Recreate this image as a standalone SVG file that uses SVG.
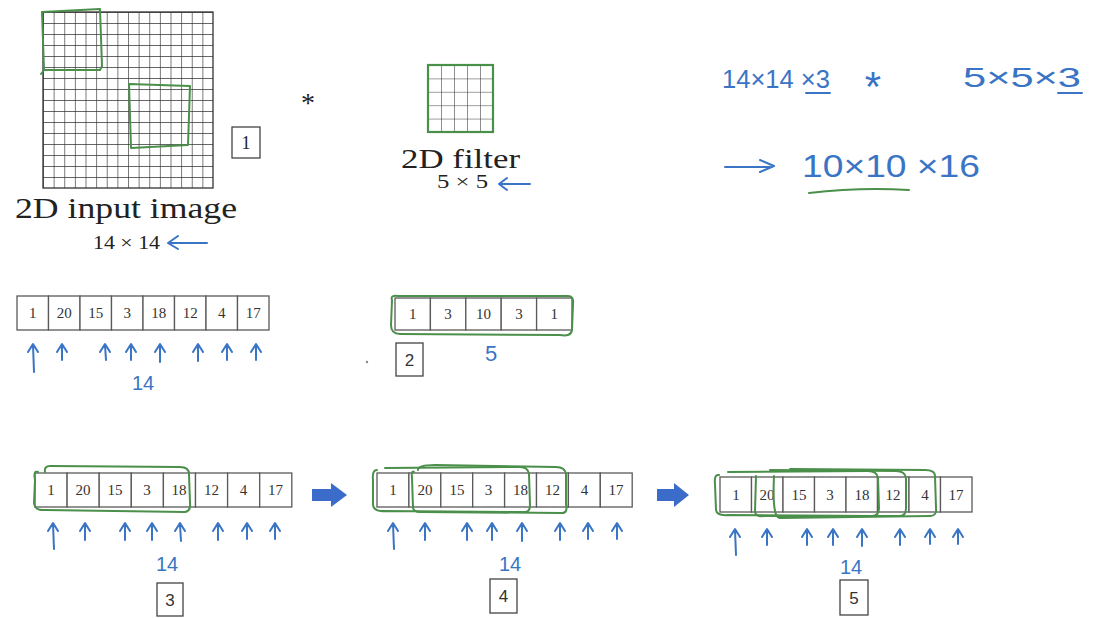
<svg xmlns="http://www.w3.org/2000/svg" width="1095" height="618" viewBox="0 0 1095 618">
<style>
.cell{fill:#fff;stroke:#5a5a5a;stroke-width:1.3}
.num{font-family:"Liberation Serif",serif;font-size:15px;text-anchor:middle;fill:#333}
.serif{font-family:"Liberation Serif",serif;fill:#222}
.lbl{font-family:"Liberation Sans",sans-serif;font-size:17px;text-anchor:middle;fill:#333}
.box{fill:#fff;stroke:#444;stroke-width:1.3}
.hand{font-family:"Liberation Sans",sans-serif;fill:#3a74c4}
.grn{fill:none;stroke:#4a8f4a;stroke-width:2;stroke-linejoin:round;stroke-linecap:round}
.bl{fill:none;stroke:#3a74c4;stroke-width:2;stroke-linecap:round;stroke-linejoin:round}
.blk{fill:#3b6cc9}
</style>
<defs>
<pattern id="g16" patternUnits="userSpaceOnUse" x="43" y="12" width="10.625" height="11">
<path d="M0,0 V11 M0,0 H10.625" stroke="#333" stroke-width="1.3" fill="none"/>
</pattern>
<pattern id="g5" patternUnits="userSpaceOnUse" x="428" y="65" width="13" height="13.4">
<path d="M0,0 V13.4 M0,0 H13" stroke="#333" stroke-width="1.1" fill="none"/>
</pattern>
</defs>
<rect width="1095" height="618" fill="#fff"/>

<g id="input-image">
<rect x="43" y="12" width="170" height="176" fill="url(#g16)" stroke="#333" stroke-width="1.3"/>
<path class="grn" d="M44,70 L42,12 L100,9 L102,66 L100,70 Z M44,70 L41,74"/>
<path class="grn" d="M129,84 L190,86 L188,145 L131,148 Z"/>
<rect class="box" x="232" y="127" width="28" height="31"/>
<text class="serif" x="246" y="149" font-size="18" text-anchor="middle">1</text>
<text class="serif" x="15" y="218" font-size="30" textLength="222" lengthAdjust="spacingAndGlyphs">2D input image</text>
<text class="serif" x="93" y="249" font-size="19" textLength="67" lengthAdjust="spacingAndGlyphs">14 × 14</text>
<path class="bl" d="M207,243 L168,243 M178,236 L168,243 L178,249"/>
</g>

<g id="conv-op">
<text class="serif" x="308" y="112" font-size="28" text-anchor="middle">*</text>
</g>

<g id="filter">
<rect x="428" y="65" width="65" height="67" fill="url(#g5)" stroke="#4a8f4a" stroke-width="2.2"/>
<text class="serif" x="401" y="168" font-size="28" textLength="119" lengthAdjust="spacingAndGlyphs">2D filter</text>
<text class="serif" x="437" y="188" font-size="18" textLength="51" lengthAdjust="spacingAndGlyphs">5 × 5</text>
<path class="bl" d="M530,184 L499,184 M507,178 L499,184 L507,190"/>
</g>

<g id="handwritten-math">
<text class="hand" x="722" y="88" font-size="25" textLength="108" lengthAdjust="spacingAndGlyphs">14×14 ×3</text>
<path class="bl" d="M806,93 L830,93"/>
<text class="hand" x="873" y="101" font-size="42" text-anchor="middle">*</text>
<text class="hand" x="963" y="87" font-size="28" textLength="118" lengthAdjust="spacingAndGlyphs">5×5×3</text>
<path class="bl" d="M1058,93 L1082,93"/>
<path class="bl" d="M725,167 L770,167 M760,160 L774,166 L760,172"/>
<text class="hand" x="802" y="177" font-size="32" textLength="178" lengthAdjust="spacingAndGlyphs">10×10 ×16</text>
<path class="grn" d="M809,193 Q860,187 909,190"/>
</g>

<g id="row2-input">
<rect class="cell" x="17" y="296" width="31.5" height="34"/>
<rect class="cell" x="48.5" y="296" width="31.5" height="34"/>
<rect class="cell" x="80" y="296" width="31.5" height="34"/>
<rect class="cell" x="111.5" y="296" width="31.5" height="34"/>
<rect class="cell" x="143" y="296" width="31.5" height="34"/>
<rect class="cell" x="174.5" y="296" width="31.5" height="34"/>
<rect class="cell" x="206" y="296" width="31.5" height="34"/>
<rect class="cell" x="237.5" y="296" width="31.5" height="34"/>
<text class="num" x="32.75" y="318">1</text>
<text class="num" x="64.25" y="318">20</text>
<text class="num" x="95.75" y="318">15</text>
<text class="num" x="127.25" y="318">3</text>
<text class="num" x="158.75" y="318">18</text>
<text class="num" x="190.25" y="318">12</text>
<text class="num" x="221.75" y="318">4</text>
<text class="num" x="253.25" y="318">17</text>
<path class="bl" d="M34,372 L33,345 M28,352 L33,344 L38,352 M62,360 L62,345 M57,352 L62,344 L67,352 M106,360 L105,345 M100,352 L105,344 L110,352 M131,360 L131,345 M126,352 L131,344 L136,352 M160,362 L160,346 M155,352 L160,344 L165,352 M198,361 L198,346 M193,352 L198,344 L203,352 M227,360 L227,345 M222,352 L227,344 L232,352 M256,360 L256,345 M251,352 L256,344 L261,352"/>
<text class="hand" x="143" y="390" font-size="20" text-anchor="middle">14</text>
</g>

<g id="row2-filter">
<rect class="cell" x="395" y="298" width="35.4" height="32"/>
<rect class="cell" x="430.4" y="298" width="35.4" height="32"/>
<rect class="cell" x="465.8" y="298" width="35.4" height="32"/>
<rect class="cell" x="501.2" y="298" width="35.4" height="32"/>
<rect class="cell" x="536.6" y="298" width="35.4" height="32"/>
<text class="num" x="412.7" y="319">1</text>
<text class="num" x="448.1" y="319">3</text>
<text class="num" x="483.5" y="319">10</text>
<text class="num" x="518.9" y="319">3</text>
<text class="num" x="554.3" y="319">1</text>
<path class="grn" d="M392,300 Q390,295 398,296 L568,296 Q574,296 573,304 L572,330 Q571,337 560,335 L400,334 Q391,334 391,325 Z"/>
<rect class="box" x="396" y="343" width="27" height="33"/>
<text class="lbl" x="409.5" y="366">2</text>
<text class="hand" x="491" y="361" font-size="22" text-anchor="middle">5</text>
<circle cx="367" cy="362" r="1.2" fill="#888"/>
</g>

<g id="step3">
<rect class="cell" x="35" y="473" width="32.1" height="34"/>
<rect class="cell" x="67.1" y="473" width="32.1" height="34"/>
<rect class="cell" x="99.2" y="473" width="32.1" height="34"/>
<rect class="cell" x="131.3" y="473" width="32.1" height="34"/>
<rect class="cell" x="163.4" y="473" width="32.1" height="34"/>
<rect class="cell" x="195.5" y="473" width="32.1" height="34"/>
<rect class="cell" x="227.6" y="473" width="32.1" height="34"/>
<rect class="cell" x="259.7" y="473" width="32.1" height="34"/>
<text class="num" x="51" y="495">1</text>
<text class="num" x="83" y="495">20</text>
<text class="num" x="115" y="495">15</text>
<text class="num" x="147" y="495">3</text>
<text class="num" x="179" y="495">18</text>
<text class="num" x="211.5" y="495">12</text>
<text class="num" x="243.5" y="495">4</text>
<text class="num" x="275.5" y="495">17</text>
<path class="grn" d="M38,472 Q33,470 35,480 L34,503 Q35,511 45,510 L185,512 Q191,511 190,503 L189,474 Q189,467 180,467 L50,466 Q44,466 45,472"/>
<path class="bl" d="M54,549 L53,524 M48,531 L53,523 L58,531 M85,540 L85,525 M80,531 L85,523 L90,531 M125,540 L125,525 M120,531 L125,523 L130,531 M152,540 L152,525 M147,531 L152,523 L157,531 M181,541 L180,525 M175,531 L180,523 L185,531 M218,540 L218,525 M213,531 L218,523 L223,531 M247,539 L247,525 M242,531 L247,523 L252,531 M275,539 L275,525 M270,531 L275,523 L280,531"/>
<text class="hand" x="167" y="571" font-size="20" text-anchor="middle">14</text>
<rect class="box" x="157" y="583" width="26" height="33"/>
<text class="lbl" x="170" y="606">3</text>
</g>

<g id="step4">
<rect class="cell" x="377" y="473" width="31.9" height="34"/>
<rect class="cell" x="408.9" y="473" width="31.9" height="34"/>
<rect class="cell" x="440.8" y="473" width="31.9" height="34"/>
<rect class="cell" x="472.7" y="473" width="31.9" height="34"/>
<rect class="cell" x="504.6" y="473" width="31.9" height="34"/>
<rect class="cell" x="536.5" y="473" width="31.9" height="34"/>
<rect class="cell" x="568.4" y="473" width="31.9" height="34"/>
<rect class="cell" x="600.3" y="473" width="31.9" height="34"/>
<text class="num" x="393" y="495">1</text>
<text class="num" x="425" y="495">20</text>
<text class="num" x="457" y="495">15</text>
<text class="num" x="488.5" y="495">3</text>
<text class="num" x="520.5" y="495">18</text>
<text class="num" x="552.5" y="495">12</text>
<text class="num" x="584.5" y="495">4</text>
<text class="num" x="616" y="495">17</text>
<path class="grn" d="M377,470 Q372,470 373,480 L373,505 Q374,512 385,511 L525,512 Q530,512 530,505 L529,474 Q528,467 520,467 L385,468"/>
<path class="grn" d="M414,472 Q411,470 412,478 L413,508 Q414,512 420,512 L562,513 Q568,513 566,504 L566,474 Q565,467 556,467 L435,465 Q418,465 418,470"/>
<path class="bl" d="M394,549 L393,524 M388,531 L393,523 L398,531 M425,540 L425,525 M420,531 L425,523 L430,531 M467,540 L467,525 M462,531 L467,523 L472,531 M492,540 L492,525 M487,531 L492,523 L497,531 M522,541 L522,525 M517,531 L522,523 L527,531 M560,540 L560,525 M555,531 L560,523 L565,531 M588,539 L588,525 M583,531 L588,523 L593,531 M617,539 L617,525 M612,531 L617,523 L622,531"/>
<text class="hand" x="510" y="571" font-size="20" text-anchor="middle">14</text>
<rect class="box" x="490" y="579" width="27" height="34"/>
<text class="lbl" x="503.5" y="602">4</text>
</g>

<g id="step5">
<rect class="cell" x="720" y="477" width="31.5" height="35"/>
<rect class="cell" x="751.5" y="477" width="31.5" height="35"/>
<rect class="cell" x="783" y="477" width="31.5" height="35"/>
<rect class="cell" x="814.5" y="477" width="31.5" height="35"/>
<rect class="cell" x="846" y="477" width="31.5" height="35"/>
<rect class="cell" x="877.5" y="477" width="31.5" height="35"/>
<rect class="cell" x="909" y="477" width="31.5" height="35"/>
<rect class="cell" x="940.5" y="477" width="31.5" height="35"/>
<text class="num" x="736" y="500">1</text>
<text class="num" x="767" y="500">20</text>
<text class="num" x="799" y="500">15</text>
<text class="num" x="830" y="500">3</text>
<text class="num" x="862" y="500">18</text>
<text class="num" x="893" y="500">12</text>
<text class="num" x="925" y="500">4</text>
<text class="num" x="956" y="500">17</text>
<path class="grn" d="M719,475 Q714,474 715,484 L716,510 Q717,516 728,515 L872,516 Q879,516 879,508 L878,478 Q877,471 868,471 L728,472"/>
<path class="grn" d="M756,476 L755,512 Q756,517 764,516 L900,516 Q906,516 906,508 L906,478 Q905,471 896,471 L770,470"/>
<path class="grn" d="M774,476 Q772,519 780,518 L930,516 Q937,516 936,508 L935,476 Q935,470 925,470 L790,469"/>
<path class="bl" d="M736,555 L735,530 M730,537 L735,529 L740,537 M767,545 L767,530 M762,537 L767,529 L772,537 M807,545 L807,530 M802,537 L807,529 L812,537 M833,545 L833,530 M828,537 L833,529 L838,537 M862,546 L862,530 M857,537 L862,529 L867,537 M900,545 L900,530 M895,537 L900,529 L905,537 M930,544 L930,530 M925,537 L930,529 L935,537 M958,544 L958,530 M953,537 L958,529 L963,537"/>
<text class="hand" x="851" y="574" font-size="20" text-anchor="middle">14</text>
<rect class="box" x="840" y="580" width="28" height="35"/>
<text class="lbl" x="854" y="604">5</text>
</g>

<g id="connectors">
<polygon class="blk" points="312,489 331,489 331,483 347,495 331,507 331,501 312,501"/>
<polygon class="blk" points="657,489 674,489 674,483 689,495 674,507 674,501 657,501"/>
</g>
</svg>
